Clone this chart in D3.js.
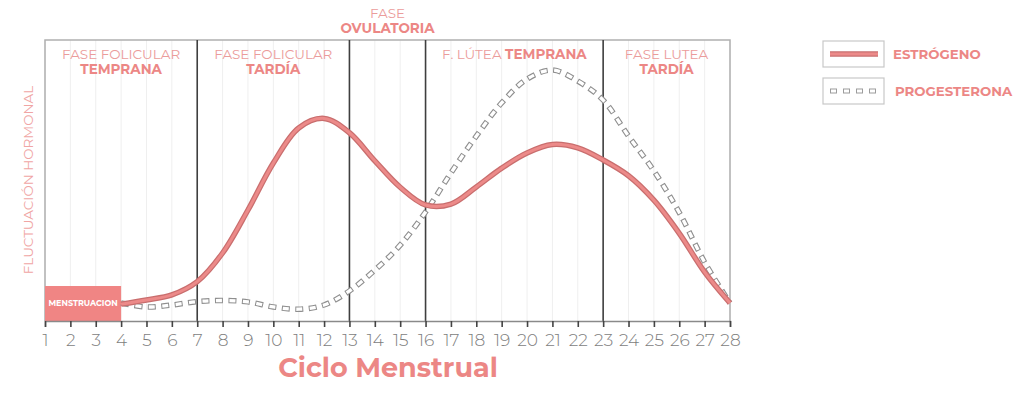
<!DOCTYPE html>
<html>
<head>
<meta charset="utf-8">
<script src="https://cdn.jsdelivr.net/npm/d3@7"></script>
<style>
  body { margin: 0; background: #fff; }
  svg { display: block; font-family: "Montserrat", "Lato", "Open Sans", sans-serif; }
</style>
</head>
<body>
<svg id="chart" width="1024" height="394"></svg>
<script>
// dias del ciclo
var days = d3.range(4, 29);
var estrogeno = [6.0, 7.5, 9.3, 14.0, 24.2, 39.5, 56.2, 68.7, 72.1, 67.0, 57.0, 47.6, 41.3,
  41.6, 47.7, 54.4, 59.8, 62.8, 61.6, 57.3, 51.7, 43.0, 31.2, 17.4, 6.4];
var progesterona = [6.4, 5.0, 5.7, 6.9, 7.3, 6.8, 5.0, 4.2, 5.7, 10.7, 18.1, 27.0, 38.8,
  52.7, 65.8, 77.6, 86.1, 89.3, 85.4, 78.6, 65.8, 53.4, 38.6, 20.9, 6.4];
var tickDays = d3.range(1, 29);
var phaseBounds = [1, 7, 13, 16, 23, 28];
var phases = [
  { light: "FASE FOLICULAR", bold: "TEMPRANA" },
  { light: "FASE FOLICULAR", bold: "TARDÍA" },
  { light: "FASE", bold: "OVULATORIA" },
  { light: "F. LÚTEA", bold: "TEMPRANA" },
  { light: "FASE LUTEA", bold: "TARDÍA" }
];
var menstruacion = [1, 4];

var pink = "#ec8785", pinkLight = "#eb9c9b", lineDark = "#c96e6e", lineFill = "#ec8a89";

var svg = d3.select("#chart");
var x = d3.scaleLinear().domain([1, 28]).range([45, 730]);
var y = d3.scaleLinear().domain([0, 100]).range([321, 40]);

// lineas guia claras
svg.append("g").selectAll("line")
  .data(tickDays)
  .enter().append("line")
  .attr("x1", d => x(d)).attr("x2", d => x(d))
  .attr("y1", y(100)).attr("y2", y(0))
  .attr("stroke", "#efefef").attr("stroke-width", 1);

// marco
svg.append("path")
  .attr("d", "M" + x(1) + "," + y(0) + "V" + y(100) + "H" + x(28) + "V" + y(0))
  .attr("fill", "none").attr("stroke", "#b0b0b0").attr("stroke-width", 1.5);

// divisiones de fase
svg.append("g").selectAll("line")
  .data(phaseBounds.slice(1, -1))
  .enter().append("line")
  .attr("x1", d => x(d)).attr("x2", d => x(d))
  .attr("y1", y(100)).attr("y2", y(0))
  .attr("stroke", "#3f3f3f").attr("stroke-width", 1.6);

// etiquetas de fase
phases.forEach(function (p, i) {
  var cx = (x(phaseBounds[i]) + x(phaseBounds[i + 1])) / 2;
  if (i === 3) {
    var t = svg.append("text").attr("x", cx).attr("y", 59)
      .attr("text-anchor", "middle").attr("font-size", 13.5);
    t.append("tspan").attr("fill", pinkLight).attr("font-weight", 400).text(p.light + " ");
    t.append("tspan").attr("fill", pink).attr("font-weight", 700).text(p.bold);
    return;
  }
  var top = i === 2 ? 18 : 59;
  svg.append("text").attr("x", cx).attr("y", top)
    .attr("text-anchor", "middle").attr("font-size", 13.5)
    .attr("fill", pinkLight).attr("font-weight", 400).text(p.light);
  svg.append("text").attr("x", cx).attr("y", top + 15)
    .attr("text-anchor", "middle").attr("font-size", 13.5)
    .attr("fill", pink).attr("font-weight", 700).text(p.bold);
});

// menstruacion
svg.append("rect")
  .attr("x", x(menstruacion[0])).attr("y", 286)
  .attr("width", x(menstruacion[1]) - x(menstruacion[0])).attr("height", y(0) - 286)
  .attr("fill", "#f08584");
svg.append("text")
  .attr("x", (x(menstruacion[0]) + x(menstruacion[1])) / 2).attr("y", 306)
  .attr("text-anchor", "middle").attr("font-size", 8).attr("font-weight", 700)
  .attr("fill", "#fff").text("MENSTRUACION");

// eje x
var xAxis = svg.append("g")
  .attr("transform", "translate(0," + y(0) + ")")
  .call(d3.axisBottom(x).tickValues(tickDays).tickSize(6).tickPadding(7).tickFormat(d3.format("d")));
xAxis.select(".domain").attr("stroke", "#8a8a8a").attr("stroke-width", 1.5);
xAxis.selectAll(".tick line").attr("stroke", "#444").attr("stroke-width", 1.6);
xAxis.selectAll(".tick text").attr("fill", "#7d7d7d").attr("font-size", 17)
  .attr("font-weight", 300).attr("font-family", "Montserrat, Lato, sans-serif");

// titulos
svg.append("text").attr("x", 388).attr("y", 377)
  .attr("text-anchor", "middle").attr("font-size", 27).attr("font-weight", 700)
  .attr("fill", pink).text("Ciclo Menstrual");
svg.append("text")
  .attr("transform", "translate(33,180) rotate(-90)")
  .attr("text-anchor", "middle").attr("font-size", 13.5).attr("font-weight", 400)
  .attr("fill", "#f0a5a4").text("FLUCTUACIÓN HORMONAL");

var line = d3.line()
  .x((d, i) => x(days[i]))
  .y(d => y(d))
  .curve(d3.curveCatmullRom.alpha(0.5));

// progesterona: rectangulos huecos
svg.append("path").datum(progesterona).attr("d", line)
  .attr("fill", "none").attr("stroke", "#8f8f8f").attr("stroke-width", 5.5)
  .attr("stroke-dasharray", "8,5.5");
svg.append("path").datum(progesterona).attr("d", line)
  .attr("fill", "none").attr("stroke", "#fff").attr("stroke-width", 3.3)
  .attr("stroke-dasharray", "6,7.5").attr("stroke-dashoffset", -1);

// estrogeno
svg.append("path").datum(estrogeno).attr("d", line)
  .attr("fill", "none").attr("stroke", lineDark).attr("stroke-width", 5.5);
svg.append("path").datum(estrogeno).attr("d", line)
  .attr("fill", "none").attr("stroke", lineFill).attr("stroke-width", 3);

// leyenda
var legend = [
  { name: "ESTRÓGENO", y: 41 },
  { name: "PROGESTERONA", y: 78 }
];
var lg = svg.append("g");
lg.selectAll("rect").data(legend).enter().append("rect")
  .attr("x", 823).attr("y", d => d.y).attr("width", 61).attr("height", 26)
  .attr("fill", "#fff").attr("stroke", "#c8c8c8").attr("stroke-width", 1.2);
lg.selectAll("text").data(legend).enter().append("text")
  .attr("x", (d, i) => i ? 895 : 893).attr("y", d => d.y + 18)
  .attr("font-size", 13.3).attr("font-weight", 700).attr("fill", pink)
  .text(d => d.name);
lg.append("line").attr("x1", 830).attr("x2", 878).attr("y1", 54).attr("y2", 54)
  .attr("stroke", lineDark).attr("stroke-width", 5.5);
lg.append("line").attr("x1", 830).attr("x2", 878).attr("y1", 54).attr("y2", 54)
  .attr("stroke", lineFill).attr("stroke-width", 3);
lg.append("line").attr("x1", 830).attr("x2", 878).attr("y1", 91).attr("y2", 91)
  .attr("stroke", "#9c9c9c").attr("stroke-width", 5).attr("stroke-dasharray", "7,6");
lg.append("line").attr("x1", 830).attr("x2", 878).attr("y1", 91).attr("y2", 91)
  .attr("stroke", "#fff").attr("stroke-width", 3).attr("stroke-dasharray", "5,8")
  .attr("stroke-dashoffset", -1);
</script>
</body>
</html>
